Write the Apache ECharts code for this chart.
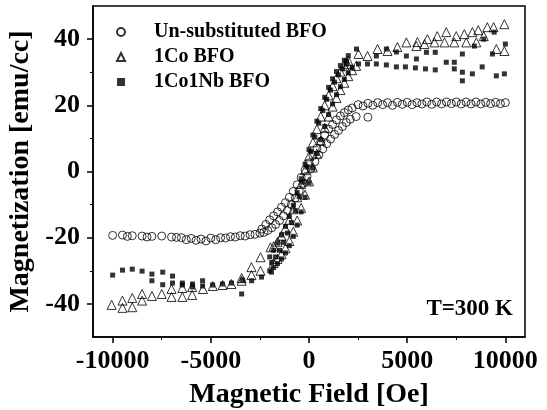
<!DOCTYPE html>
<html>
<head>
<meta charset="utf-8">
<script src="https://cdn.jsdelivr.net/npm/echarts@6/dist/echarts.min.js"></script>
<style>html,body{margin:0;padding:0;background:#fff}#c{width:547px;height:410px}</style>
</head>
<body>
<div id="c"></div>
<script>
var seriesNames = ['Un-substituted BFO', '1Co BFO', '1Co1Nb BFO'];
var xTickLabels = [-10000, -5000, 0, 5000, 10000];
var xMinorTicks = [-7500, -2500, 2500, 7500];
var yTickLabels = [-40, -20, 0, 20, 40];
var yMinorTicks = [-30, -10, 10, 30];

var unsubstituted = [
  [-10000,-19.3],[-9500,-19.2],[-9000,-19.4],[-8500,-19.5],[-8000,-19.6],[-7500,-19.5],[-7000,-19.8],[-6500,-20.0],[-6000,-20.2],[-5500,-20.4],[-5000,-20.1],[-4500,-20.0],[-4000,-19.7],[-3500,-19.4],[-3000,-19.1],[-2500,-18.6],
  [-9250,-19.6],[-8250,-19.8],[-6750,-19.9],[-6250,-20.6],[-5750,-20.8],[-5250,-21.0],[-4750,-20.6],[-4250,-20.1],[-3750,-19.8],[-3250,-19.5],[-2750,-19.0],
  [2500,20.2],[2200,19.2],[2000,18.6],[1800,17.8],[1600,16.8],[1400,15.6],[1200,14.2],[1000,12.8],[800,11.0],[600,9.0],[400,7.0],[200,4.8],[0,2.6],[-200,0.4],[-400,-1.8],[-600,-4.0],[-800,-6.0],[-1000,-7.8],[-1200,-9.4],[-1400,-10.8],[-1600,-12.2],[-1800,-13.4],[-2000,-14.6],[-2200,-16.0],[-2400,-17.4],
  [-2300,-18.4],[-2100,-17.8],[-1900,-17.0],[-1700,-16.0],[-1500,-14.8],[-1300,-13.4],[-1100,-11.8],[-900,-10.0],[-700,-8.0],[-500,-5.8],[-300,-3.6],[-100,-1.4],[100,0.8],[300,3.0],[500,5.0],[700,6.8],[900,8.4],[1100,9.8],[1300,11.2],[1500,12.4],[1700,13.6],[1900,14.8],[2100,15.8],[2400,16.6],[3000,16.4],
  [3000,20.6],[3500,20.8],[4000,20.8],[4500,20.9],[5000,20.9],[5500,20.8],[6000,21.0],[6500,21.0],[7000,21.0],[7500,21.0],[8000,21.0],[8500,21.0],[9000,20.9],[9500,20.9],[10000,20.8],
  [2750,19.8],[3250,20.0],[3750,20.2],[4250,20.0],[4750,20.3],[5250,20.2],[5750,20.4],[6250,20.3],[6750,20.4],[7250,20.5],[7750,20.4],[8250,20.4],[8750,20.4],[9250,20.5],[9750,20.5]
];

var co = [
  [-10050,-40.3],[-9500,-39.0],[-9500,-41.2],[-9000,-38.2],[-9000,-41.0],[-8500,-37.0],[-8500,-39.0],[-8000,-37.6],[-7500,-37.0],[-7000,-35.5],[-7000,-37.9],[-6450,-35.2],[-6450,-37.9],[-5950,-34.9],[-5950,-37.3],[-5400,-35.5],[-4900,-34.6],[-4400,-34.3],[-3950,-34.0],[-3430,-32.2],[-3430,-33.0],[-2930,-28.9],[-2930,-31.3],[-2470,-25.9],[-2470,-30.0],[-1960,-22.9],
  [2000,33.5],[1800,32.0],[1600,30.2],[1400,28.2],[1200,25.8],[1000,23.0],[800,20.0],[600,16.6],[400,12.8],[200,8.8],[0,4.6],[-200,0.4],[-400,-3.8],[-600,-7.8],[-800,-11.4],[-1000,-14.6],[-1200,-17.2],[-1400,-19.4],[-1600,-21.2],[-1800,-22.6],
  [-1800,-27.6],[-1600,-26.4],[-1400,-25.0],[-1200,-23.2],[-1000,-21.0],[-800,-18.2],[-600,-14.8],[-400,-11.0],[-200,-7.0],[0,-3.0],[200,1.2],[400,5.4],[600,9.4],[800,13.2],[1000,16.6],[1200,19.6],[1400,22.2],[1600,24.6],[1800,26.8],[2000,28.8],[2200,30.6],[2400,31.9],
  [1960,32.5],[2520,35.5],[2980,34.9],[3490,37.0],[4000,36.4],[4500,37.6],[4960,39.0],[5470,37.9],[5520,39.1],[5880,38.5],[6030,40.0],[6390,39.0],[6530,40.9],[6900,39.0],[6990,42.1],[7400,39.0],[7500,40.9],[7910,41.5],[8010,39.0],[8320,42.1],[8520,39.0],[8620,42.7],[8900,40.9],[9080,43.6],[9400,43.6],[9540,37.0],[9950,36.4],[9950,44.5]
];

var coNb = [
  [-10000,-31.3],[-9500,-29.8],[-9000,-29.5],[-8500,-30.1],[-8000,-31.0],[-8000,-33.0],[-7450,-30.4],[-7450,-34.2],[-6950,-31.6],[-6950,-33.7],[-6450,-33.7],[-6450,-34.3],[-5930,-34.0],[-5930,-34.9],[-5420,-33.0],[-5420,-34.6],[-4910,-34.3],[-4410,-34.0],[-3950,-33.7],[-3430,-37.0],[-3380,-32.8],[-2920,-33.0],[-2420,-31.9],[-1910,-30.4],
  [2000,35.0],[1800,33.6],[1600,32.0],[1400,30.2],[1200,28.0],[1000,25.4],[800,22.4],[600,19.0],[400,15.2],[200,11.0],[0,6.6],[-200,2.2],[-400,-2.2],[-600,-6.4],[-800,-10.2],[-1000,-13.6],[-1200,-16.6],[-1400,-19.2],[-1600,-21.6],[-1800,-23.8],[-2000,-25.8],
  [-1900,-27.5],[-1700,-25.8],[-1500,-23.8],[-1300,-21.4],[-1100,-18.6],[-900,-15.4],[-700,-11.8],[-500,-7.6],[-300,-3.2],[-100,1.4],[100,6.0],[300,10.4],[500,14.6],[700,18.4],[900,21.8],[1100,24.6],[1300,27.0],[1500,29.2],[1700,31.0],[1900,32.4],
  [-2000,-30.0],[-1800,-29.0],[-1600,-27.8],[-1400,-26.4],[-1200,-24.6],[-1000,-22.4],[-800,-19.6],[-600,-16.2],[-400,-12.2],[-200,-7.8],[0,-3.4],[200,1.0],[400,5.4],[600,9.6],[800,13.6],[1000,17.2],[1200,20.4],[1400,23.2],[1600,25.6],[1800,27.8],[2000,29.8],[2200,31.4],
  [1910,33.4],[2420,37.0],[2520,32.5],[2980,32.5],[3430,32.5],[3430,34.9],[3940,32.2],[3940,37.0],[4450,31.6],[4450,36.1],[4910,31.6],[4960,34.9],[5420,31.3],[5470,34.0],[5930,31.0],[5980,36.0],[6430,30.7],[6430,36.0],[6990,33.0],[7400,33.0],[7400,31.0],[7810,30.0],[7810,27.4],[7810,35.5],[8320,29.5],[8420,37.9],[8820,31.6],[8900,40.0],[9340,35.5],[9430,42.1],[9540,28.9],[9950,29.5],[10000,38.5]
];

var FONT = '"Liberation Serif", "DejaVu Serif", serif';
var chart = echarts.init(document.getElementById('c'), null, {renderer: 'canvas'});
var openStyle = {color: 'rgba(0,0,0,0)', borderColor: '#000', borderWidth: 1};
var plain = function (v) { return String(v); };
chart.setOption({
  animation: false,
  backgroundColor: '#fff',
  grid: {left: 93, right: 22, top: 6, bottom: 73, show: true, borderColor: '#000', borderWidth: 1.5, backgroundColor: 'transparent', containLabel: false, outerBoundsMode: 'none'},
  legend: {
    orient: 'vertical', left: 111, top: 17, itemWidth: 8, itemHeight: 8, itemGap: 5,
    textStyle: {fontFamily: FONT, fontWeight: 'bold', fontSize: 20, color: '#000', padding: [0, 0, 0, 24]},
    data: seriesNames
  },
  xAxis: [{
    type: 'value', min: -11000, max: 11000,
    name: 'Magnetic Field [Oe]', nameLocation: 'middle', nameGap: 44,
    nameTextStyle: {fontFamily: FONT, fontWeight: 'bold', fontSize: 28, color: '#000'},
    axisLine: {show: true, onZero: false, lineStyle: {color: '#000', width: 1.5}},
    axisTick: {show: true, inside: false, length: 6, lineStyle: {color: '#000', width: 1.5}, customValues: xTickLabels},
    axisLabel: {fontFamily: FONT, fontWeight: 'bold', fontSize: 26, color: '#000', margin: 11, customValues: xTickLabels, formatter: plain},
    splitLine: {show: false}
  }, {
    type: 'value', min: -11000, max: 11000, position: 'bottom',
    axisLine: {show: false, onZero: false},
    axisTick: {show: true, inside: false, length: 3, lineStyle: {color: '#000', width: 1}, customValues: xMinorTicks},
    axisLabel: {show: false, customValues: xMinorTicks},
    splitLine: {show: false}
  }],
  yAxis: [{
    type: 'value', min: -50, max: 50,
    name: 'Magnetization [emu/cc]', nameLocation: 'middle', nameGap: 56,
    nameTextStyle: {fontFamily: FONT, fontWeight: 'bold', fontSize: 28, color: '#000'},
    axisLine: {show: true, onZero: false, lineStyle: {color: '#000', width: 1.5}},
    axisTick: {show: true, inside: false, length: 6, lineStyle: {color: '#000', width: 1.5}, customValues: yTickLabels},
    axisLabel: {fontFamily: FONT, fontWeight: 'bold', fontSize: 26, color: '#000', margin: 13, customValues: yTickLabels, formatter: plain},
    splitLine: {show: false}
  }, {
    type: 'value', min: -50, max: 50, position: 'left',
    axisLine: {show: false, onZero: false},
    axisTick: {show: true, inside: false, length: 3, lineStyle: {color: '#000', width: 1}, customValues: yMinorTicks},
    axisLabel: {show: false, customValues: yMinorTicks},
    splitLine: {show: false}
  }],
  graphic: [{
    type: 'text', right: 34, top: 298,
    style: {text: 'T=300 K', font: 'bold 23px ' + FONT, fill: '#000'}
  }],
  series: [
    {name: seriesNames[0], type: 'scatter', symbol: 'circle', symbolSize: 8, itemStyle: openStyle, data: unsubstituted},
    {name: seriesNames[1], type: 'scatter', symbol: 'triangle', symbolSize: 9, itemStyle: openStyle, data: co},
    {name: seriesNames[2], type: 'scatter', symbol: 'rect', symbolSize: 5, itemStyle: {color: '#000'}, data: coNb}
  ]
});
</script>
</body>
</html>
